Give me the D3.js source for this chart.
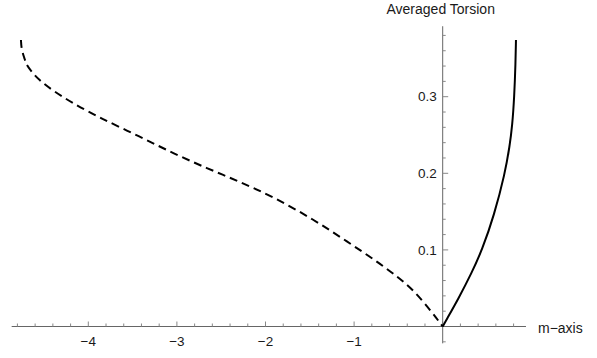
<!DOCTYPE html>
<html><head><meta charset="utf-8">
<script src="https://cdn.jsdelivr.net/npm/d3@7"></script>
<style>body{margin:0;background:#fff}svg{display:block}</style>
</head><body><svg id="c" width="597" height="358"></svg>
<script>
const dashM = [-4.76, -4.755, -4.72, -4.70, -4.65, -4.56, -4.40, -4.17, -3.87, -3.42, -3.04, -2.66, -2.29, -1.91, -1.46, -1.08, -0.71, -0.52, -0.33, -0.11, 0];
const dashV = [0.374, 0.362, 0.350, 0.342, 0.334, 0.322, 0.308, 0.291, 0.2725, 0.248, 0.226, 0.2065, 0.189, 0.169, 0.140, 0.111, 0.0825, 0.0655, 0.048, 0.017, 0];
const solidM = [0, 0.037, 0.176, 0.327, 0.445, 0.58, 0.703, 0.755, 0.785, 0.808, 0.822, 0.827];
const solidV = [0, 0.0078, 0.036, 0.070, 0.1, 0.145, 0.200, 0.235, 0.262, 0.300, 0.344, 0.374];
const xMajor = [-4, -3, -2, -1, 0];
const xLabels = ["−4", "−3", "−2", "−1"];
const yMajor = [0.1, 0.2, 0.3];
const yLabels = ["0.1", "0.2", "0.3"];
const xRange = [-4.865, 0.94];
const yRange = [-0.022, 0.392];

const svg = d3.select("#c");
const x = d3.scaleLinear().domain([-5, 1]).range([442.7 - 5 * 88.6, 442.7 + 88.6]);
const y = d3.scaleLinear().domain([0, 0.4]).range([326.5, 326.5 - 0.4 * 766]);
const axisCol = "#666", tickCol = "#888", font = "'Liberation Sans', Arial, sans-serif";

// x axis
svg.append("line").attr("x1", x(xRange[0])).attr("x2", x(xRange[1])).attr("y1", y(0)).attr("y2", y(0))
  .attr("stroke", axisCol).attr("stroke-width", 1);
const xMinor = d3.range(-24, 5).map(i => i * 0.2).filter(v => Math.abs(v - Math.round(v)) > 1e-6);
svg.selectAll(".xmin").data(xMinor).join("line").attr("x1", d => x(d)).attr("x2", d => x(d))
  .attr("y1", y(0)).attr("y2", y(0) - 3).attr("stroke", tickCol);
svg.selectAll(".xmaj").data(xMajor).join("line").attr("x1", d => x(d)).attr("x2", d => x(d))
  .attr("y1", y(0)).attr("y2", y(0) - 5).attr("stroke", tickCol);
svg.selectAll(".xlab").data(xLabels).join("text").attr("x", (d, i) => x(xMajor[i])).attr("y", 346)
  .attr("text-anchor", "middle").attr("font-family", font).attr("font-size", 13.5).attr("fill", "#1a1a1a").text(d => d);

// y axis
svg.append("line").attr("x1", x(0)).attr("x2", x(0)).attr("y1", y(yRange[0])).attr("y2", y(yRange[1]))
  .attr("stroke", axisCol).attr("stroke-width", 1);
const yMinor = d3.range(-1, 20).map(i => i * 0.02).filter(v => Math.abs(v * 10 - Math.round(v * 10)) > 1e-6);
svg.selectAll(".ymin").data(yMinor).join("line").attr("x1", x(0)).attr("x2", x(0) + 3)
  .attr("y1", d => y(d)).attr("y2", d => y(d)).attr("stroke", tickCol);
svg.selectAll(".ymaj").data(yMajor).join("line").attr("x1", x(0)).attr("x2", x(0) + 5.5)
  .attr("y1", d => y(d)).attr("y2", d => y(d)).attr("stroke", tickCol);
svg.selectAll(".ylab").data(yLabels).join("text").attr("x", x(0) - 6).attr("y", (d, i) => y(yMajor[i]) + 4.7)
  .attr("text-anchor", "end").attr("font-family", font).attr("font-size", 13.5).attr("fill", "#1a1a1a").text(d => d);

// axis titles
svg.append("text").attr("x", 386.5).attr("y", 13.5).attr("font-family", font).attr("font-size", 14)
  .attr("fill", "#1a1a1a").text("Averaged Torsion");
svg.append("text").attr("x", 538).attr("y", 333).attr("font-family", font).attr("font-size", 14)
  .attr("fill", "#1a1a1a").text("m−axis");

// curves
const line = d3.line().x(d => x(d[0])).y(d => y(d[1])).curve(d3.curveBasis);
svg.append("path").attr("d", line(dashM.map((m, i) => [m, dashV[i]])))
  .attr("fill", "none").attr("stroke", "#000").attr("stroke-width", 2).attr("stroke-dasharray", "8,5");
svg.append("path").attr("d", line(solidM.map((m, i) => [m, solidV[i]])))
  .attr("fill", "none").attr("stroke", "#000").attr("stroke-width", 2);
</script></body></html>
